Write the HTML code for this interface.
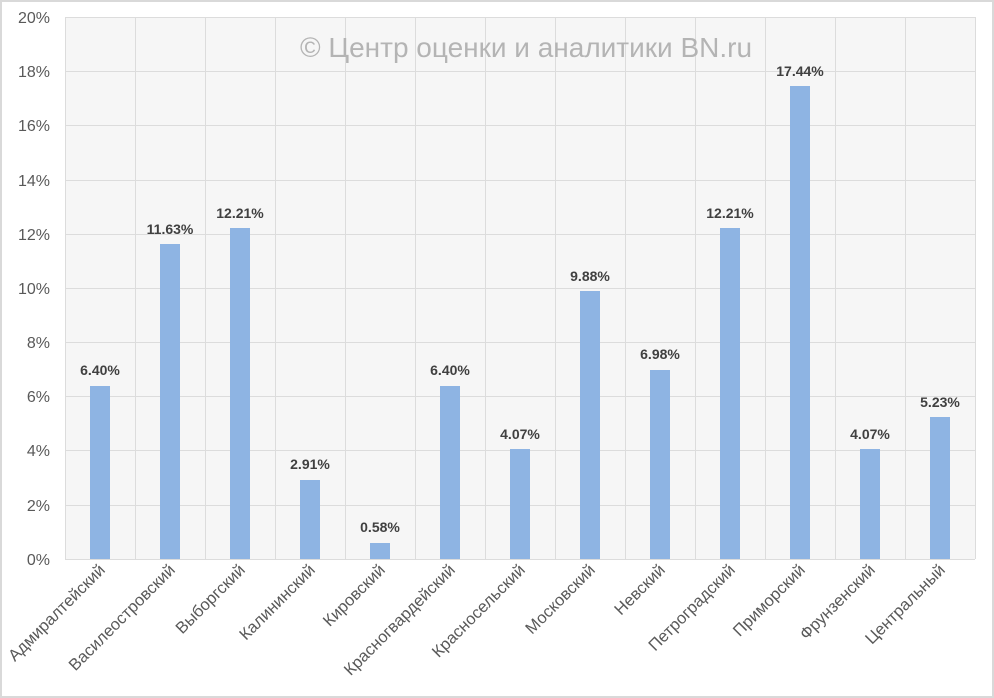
<!DOCTYPE html>
<html><head><meta charset="utf-8"><style>
body{margin:0;background:#fff}
svg{display:block;font-family:"Liberation Sans","DejaVu Sans",sans-serif}
</style></head><body>
<svg width="994" height="698" viewBox="0 0 994 698">
<rect x="1" y="1" width="992" height="696" fill="#fff" stroke="#d9d9d9" stroke-width="2"/>
<rect x="65" y="17" width="910" height="542" fill="#f6f6f6"/>
<g stroke="#dcdcdc" stroke-width="1">
<line x1="65" y1="17.5" x2="975" y2="17.5"/><line x1="65" y1="71.5" x2="975" y2="71.5"/><line x1="65" y1="125.5" x2="975" y2="125.5"/><line x1="65" y1="180.5" x2="975" y2="180.5"/><line x1="65" y1="234.5" x2="975" y2="234.5"/><line x1="65" y1="288.5" x2="975" y2="288.5"/><line x1="65" y1="342.5" x2="975" y2="342.5"/><line x1="65" y1="396.5" x2="975" y2="396.5"/><line x1="65" y1="450.5" x2="975" y2="450.5"/><line x1="65" y1="505.5" x2="975" y2="505.5"/><line x1="65" y1="559.5" x2="975" y2="559.5"/>
<line x1="65.5" y1="17" x2="65.5" y2="559"/><line x1="135.5" y1="17" x2="135.5" y2="559"/><line x1="205.5" y1="17" x2="205.5" y2="559"/><line x1="275.5" y1="17" x2="275.5" y2="559"/><line x1="345.5" y1="17" x2="345.5" y2="559"/><line x1="415.5" y1="17" x2="415.5" y2="559"/><line x1="485.5" y1="17" x2="485.5" y2="559"/><line x1="555.5" y1="17" x2="555.5" y2="559"/><line x1="625.5" y1="17" x2="625.5" y2="559"/><line x1="695.5" y1="17" x2="695.5" y2="559"/><line x1="765.5" y1="17" x2="765.5" y2="559"/><line x1="835.5" y1="17" x2="835.5" y2="559"/><line x1="905.5" y1="17" x2="905.5" y2="559"/><line x1="975.5" y1="17" x2="975.5" y2="559"/>
</g>
<g font-size="16" fill="#595959" text-anchor="end">
<text x="50" y="23">20%</text><text x="50" y="77">18%</text><text x="50" y="131">16%</text><text x="50" y="186">14%</text><text x="50" y="240">12%</text><text x="50" y="294">10%</text><text x="50" y="348">8%</text><text x="50" y="402">6%</text><text x="50" y="456">4%</text><text x="50" y="511">2%</text><text x="50" y="565">0%</text>
</g>
<text x="526" y="57" font-size="28" fill="#b4b4b4" text-anchor="middle">© Центр оценки и аналитики BN.ru</text>
<g fill="#8eb4e3">
<rect x="90" y="386" width="20" height="173"/>
<rect x="160" y="244" width="20" height="315"/>
<rect x="230" y="228" width="20" height="331"/>
<rect x="300" y="480" width="20" height="79"/>
<rect x="370" y="543" width="20" height="16"/>
<rect x="440" y="386" width="20" height="173"/>
<rect x="510" y="449" width="20" height="110"/>
<rect x="580" y="291" width="20" height="268"/>
<rect x="650" y="370" width="20" height="189"/>
<rect x="720" y="228" width="20" height="331"/>
<rect x="790" y="86" width="20" height="473"/>
<rect x="860" y="449" width="20" height="110"/>
<rect x="930" y="417" width="20" height="142"/>
</g>
<g font-size="14" font-weight="bold" fill="#404040" text-anchor="middle">
<text x="100" y="375">6.40%</text><text x="170" y="234">11.63%</text><text x="240" y="218">12.21%</text><text x="310" y="469">2.91%</text><text x="380" y="532">0.58%</text><text x="450" y="375">6.40%</text><text x="520" y="439">4.07%</text><text x="590" y="281">9.88%</text><text x="660" y="359">6.98%</text><text x="730" y="218">12.21%</text><text x="800" y="76">17.44%</text><text x="870" y="439">4.07%</text><text x="940" y="407">5.23%</text>
</g>
<g font-size="16.5" fill="#595959" text-anchor="end">
<text transform="translate(106,571) rotate(-45)">Адмиралтейский</text>
<text transform="translate(176,571) rotate(-45)">Василеостровский</text>
<text transform="translate(246,571) rotate(-45)">Выборгский</text>
<text transform="translate(316,571) rotate(-45)">Калининский</text>
<text transform="translate(386,571) rotate(-45)">Кировский</text>
<text transform="translate(456,571) rotate(-45)">Красногвардейский</text>
<text transform="translate(526,571) rotate(-45)">Красносельский</text>
<text transform="translate(596,571) rotate(-45)">Московский</text>
<text transform="translate(666,571) rotate(-45)">Невский</text>
<text transform="translate(736,571) rotate(-45)">Петроградский</text>
<text transform="translate(806,571) rotate(-45)">Приморский</text>
<text transform="translate(876,571) rotate(-45)">Фрунзенский</text>
<text transform="translate(946,571) rotate(-45)">Центральный</text>
</g>
</svg>
</body></html>
